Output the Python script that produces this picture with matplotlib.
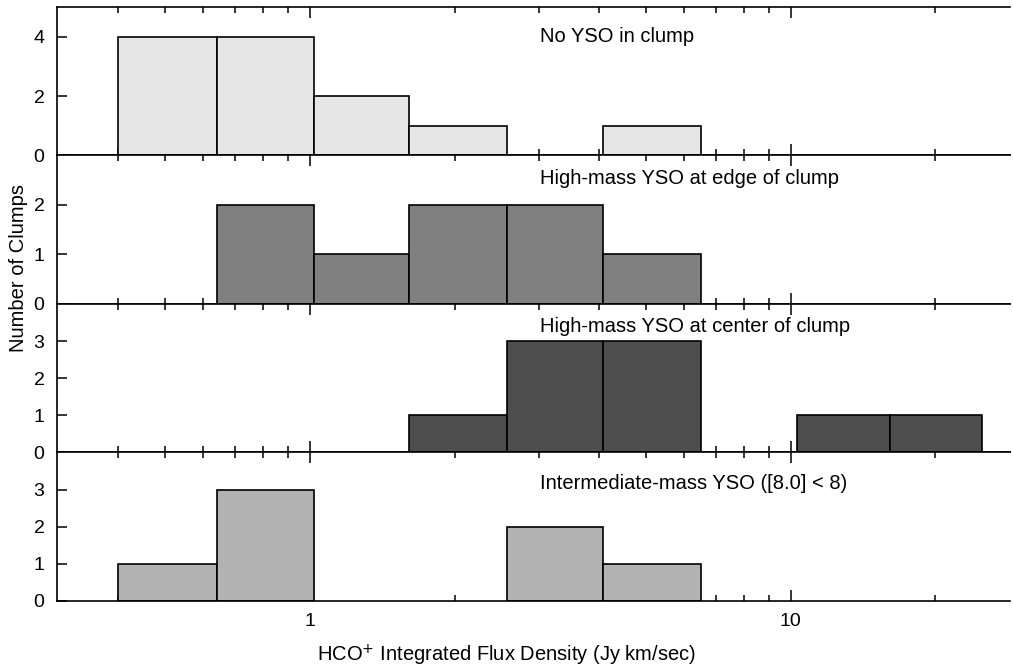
import numpy as np
import matplotlib
matplotlib.use('Agg')
import matplotlib.pyplot as plt
from matplotlib.ticker import NullFormatter, FixedLocator, FixedFormatter

plt.rcParams['font.family'] = ['Liberation Sans', 'DejaVu Sans']

# Bin edges (log-spaced, Jy km/sec)
bin_edges = [0.40, 0.64, 1.02, 1.61, 2.57, 4.07, 6.5, 10.3, 16.1, 25.0]

# Counts per bin for each clump class
labels = ['No YSO in clump',
          'High-mass YSO at edge of clump',
          'High-mass YSO at center of clump',
          'Intermediate-mass YSO ([8.0] < 8)']
counts_none   = [4, 4, 2, 1, 0, 1, 0, 0, 0]
counts_edge   = [0, 2, 1, 2, 2, 1, 0, 0, 0]
counts_center = [0, 0, 0, 1, 3, 3, 0, 1, 1]
counts_inter  = [1, 3, 0, 0, 2, 1, 0, 0, 0]
all_counts = [counts_none, counts_edge, counts_center, counts_inter]

major_x = [1, 10]
minor_x = [0.4, 0.5, 0.6, 0.7, 0.8, 0.9, 2, 3, 4, 5, 6, 7, 8, 9, 20]

colors  = ['#e6e6e6', '#808080', '#4d4d4d', '#b3b3b3']
ylims   = [5, 3, 4, 4]
yticks  = [[0, 2, 4], [0, 1, 2], [0, 1, 2, 3], [0, 1, 2, 3]]
label_y = [0.80, 0.845, 0.845, 0.79]

fig, axes = plt.subplots(4, 1, figsize=(10.13, 6.70), dpi=100, sharex=True)
fig.subplots_adjust(left=0.0563, right=0.997, top=0.9896, bottom=0.103, hspace=0)

edges = np.array(bin_edges)
for i, ax in enumerate(axes):
    c = np.array(all_counts[i])
    keep = c > 0
    # bars sit on top of the tick marks, like the original
    ax.set_axisbelow(True)
    ax.bar(edges[:-1][keep], c[keep], width=np.diff(edges)[keep], align='edge',
           color=colors[i], edgecolor='black', linewidth=1.2, zorder=2)
    ax.set_xscale('log')
    ax.set_xlim(0.298, 28.6)
    ax.set_ylim(0, ylims[i])
    ax.set_yticks(yticks[i])
    ax.text(0.507, label_y[i], labels[i], transform=ax.transAxes,
            fontsize=14.5, va='center', ha='left')

    ax.spines['right'].set_visible(False)
    for s in ['left', 'top', 'bottom']:
        ax.spines[s].set_linewidth(1.2)
        ax.spines[s].set_zorder(3)
    ax.xaxis.set_major_locator(FixedLocator(major_x))
    ax.xaxis.set_minor_locator(FixedLocator(minor_x))
    ax.xaxis.set_minor_formatter(NullFormatter())
    ax.tick_params(axis='x', which='major', direction='in', length=8, width=1.1,
                   top=True, bottom=True, labelsize=14, pad=9)
    ax.tick_params(axis='x', which='minor', direction='in', length=4, width=1.1,
                   top=True, bottom=True)
    ax.tick_params(axis='y', direction='in', length=7, width=1.1,
                   labelsize=14, pad=9, right=False)
    if i < 3:
        ax.tick_params(axis='x', which='both', labelbottom=False)

axes[-1].xaxis.set_major_formatter(FixedFormatter(['1', '10']))

fig.text(0.50, 0.022, r'HCO$^{+}$ Integrated Flux Density (Jy km/sec)',
         ha='center', va='center', fontsize=14.5)
fig.text(0.018, 0.60, 'Number of Clumps', rotation=90,
         ha='center', va='center', fontsize=14.5)

fig.savefig('out.png', dpi=100)
